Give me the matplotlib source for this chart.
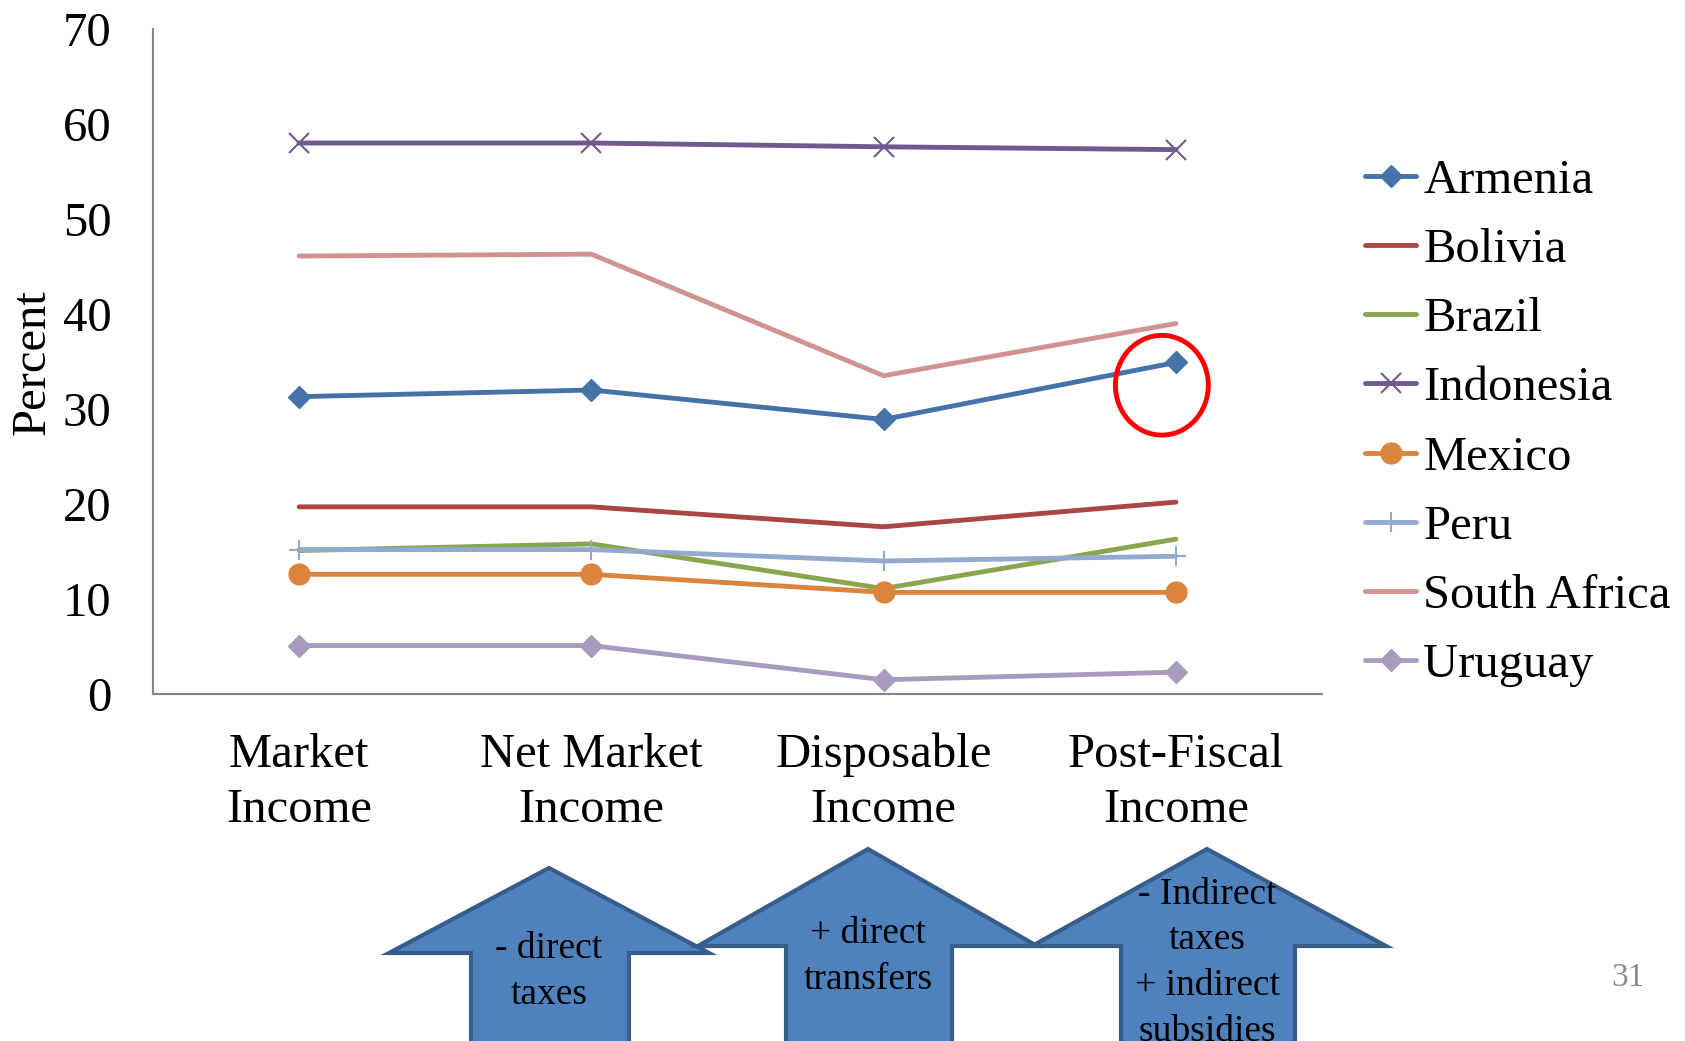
import numpy as np
import matplotlib
matplotlib.use("Agg")
import matplotlib.pyplot as plt
from matplotlib.patches import Polygon, Ellipse

plt.rcParams['font.family'] = ['Liberation Serif', 'DejaVu Serif']

stages = ["Market\nIncome", "Net Market\nIncome", "Disposable\nIncome", "Post-Fiscal\nIncome"]

armenia = [31.3, 32.0, 28.9, 34.9]
bolivia = [19.7, 19.7, 17.6, 20.2]
brazil = [15.1, 15.8, 11.1, 16.3]
indonesia = [58.0, 58.0, 57.6, 57.3]
mexico = [12.6, 12.6, 10.7, 10.7]
peru = [15.2, 15.2, 14.0, 14.5]
south_africa = [46.1, 46.3, 33.5, 39.0]
uruguay = [5.1, 5.1, 1.5, 2.3]

series = [
    ("Armenia", armenia, "#4572A7", "D"),
    ("Bolivia", bolivia, "#AA4643", None),
    ("Brazil", brazil, "#89A54E", None),
    ("Indonesia", indonesia, "#71588F", "x"),
    ("Mexico", mexico, "#DB843D", "o"),
    ("Peru", peru, "#93A9CF", "+"),
    ("South Africa", south_africa, "#D19392", None),
    ("Uruguay", uruguay, "#A99BBD", "D"),
]

arrow_texts = ["- direct\ntaxes", "+ direct\ntransfers",
               "- Indirect\ntaxes\n+ indirect\nsubsidies"]

W, H = 1685, 1041
fig = plt.figure(figsize=(W / 100, H / 100), dpi=100)
ax = fig.add_axes([153 / W, 1 - 694 / H, (1322 - 153) / W, (694 - 29) / H])

x = np.arange(len(stages))
for name, vals, color, marker in series:
    kw = dict(color=color, lw=3.5, label=name, solid_capstyle='round')
    if marker == "D":
        kw.update(marker="D", ms=11)
    elif marker == "o":
        kw.update(marker="o", ms=15)
    elif marker in ("x", "+"):
        kw.update(marker=marker, ms=15, mew=1.5)
    ax.plot(x, vals, **kw)

ax.set_xlim(-0.5, 3.5)
ax.set_ylim(0, 70)
ax.set_yticks(range(0, 71, 10))
ax.set_xticks(x)
ax.set_xticklabels(stages, fontsize=35, linespacing=1.32)
ax.tick_params(axis='both', length=0, labelsize=35)
ax.tick_params(axis='y', pad=30)
ax.tick_params(axis='x', pad=28)
for s in ("top", "right"):
    ax.spines[s].set_visible(False)
for s in ("left", "bottom"):
    ax.spines[s].set_color("#868686")
    ax.spines[s].set_linewidth(1.5)

fig.text(33 / W, 1 - 362 / H, "Percent", rotation=90, fontsize=35,
         ha='center', va='center')

# red ring around the post-fiscal Armenia point
ax.add_patch(Ellipse((2.952, 32.5), 0.318, 10.5, fill=False, ec="#FF0000",
                     lw=3.5, clip_on=False, zorder=5))

fig.legend(loc='center left', bbox_to_anchor=(1365 / W, 1 - 423 / H),
           frameon=False, fontsize=35, handlelength=1.05, handletextpad=0.15,
           labelspacing=0.515, borderpad=0, borderaxespad=0)

# block arrows: tip, head base y, head span, body span
arrows = [
    ((549, 868), 953, (389, 709), (471, 629)),
    ((868, 849), 946, (698, 1037), (786, 952)),
    ((1207, 849), 946, (1032, 1386), (1121, 1295)),
]
text_y = [972, 957, 963]
for (tip, base, head, body), txt, ty in zip(arrows, arrow_texts, text_y):
    pts = [tip, (head[1], base), (body[1], base), (body[1], H + 20),
           (body[0], H + 20), (body[0], base), (head[0], base)]
    pts = [(px / W, 1 - py / H) for px, py in pts]
    fig.patches.append(Polygon(pts, closed=True, fc="#4F81BD", ec="#385D8A",
                               lw=3, transform=fig.transFigure, figure=fig))
    fig.text(tip[0] / W, 1 - ty / H, txt, fontsize=27, ha='center',
             va='center', linespacing=1.42)

fig.text(1628 / W, 1 - 978 / H, "31", fontsize=24, color="#8C8C8C",
         ha='center', va='center')

fig.savefig("out.png", dpi=100)
